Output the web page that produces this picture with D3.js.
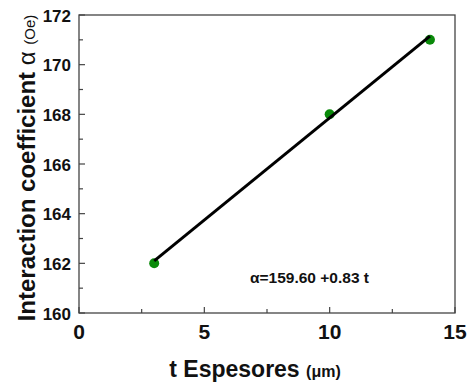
<!DOCTYPE html>
<meta charset="utf-8">
<style>
  html, body { margin:0; padding:0; background:#fff; overflow:hidden }
  text { font-family: Arial, "Liberation Sans", sans-serif; font-weight: bold; }
</style>
<svg id="chart" width="473" height="383"></svg>
<script src="https://cdn.jsdelivr.net/npm/d3@7"></script>
<script>

// data
var thickness = [3, 10, 14];
var alphaVals = [162, 168, 171];
var fitT = [3, 14];
var fitAlpha = [162.1, 171.15];
var xTicks = [0, 5, 10, 15];
var xMinor = [2.5, 7.5, 12.5];
var yTicks = [160, 162, 164, 166, 168, 170, 172];
var yMinor = [161, 163, 165, 167, 169, 171];
var fitLabel = "\u03b1=159.60 +0.83 t";

var svg = d3.select("#chart");

// plot box (don't call it "top", that's window.top)
var pL = 79, pR = 455, pT = 15, pB = 313;

var x = d3.scaleLinear().domain([0, 15]).range([pL, pR]);
var y = d3.scaleLinear().domain([160, 172]).range([pB, pT]);

// frame
svg.append("rect")
    .attr("x", pL).attr("y", pT)
    .attr("width", pR - pL).attr("height", pB - pT)
    .attr("fill", "none").attr("stroke", "#444").attr("stroke-width", 1.3);

// x axis ticks (pointing in)
var xAxis = svg.append("g").attr("transform", "translate(0," + pB + ")");
xAxis.selectAll("line.maj").data(xTicks).enter().append("line")
    .attr("x1", function(d) { return x(d); }).attr("x2", function(d) { return x(d); })
    .attr("y1", 0).attr("y2", -6).attr("stroke", "#444").attr("stroke-width", 1.2);
xAxis.selectAll("line.min").data(xMinor).enter().append("line")
    .attr("x1", function(d) { return x(d); }).attr("x2", function(d) { return x(d); })
    .attr("y1", 0).attr("y2", -4).attr("stroke", "#444").attr("stroke-width", 1.2);
xAxis.selectAll("text").data(xTicks).enter().append("text")
    .attr("x", function(d) { return x(d); })
    .attr("y", 26)
    .attr("text-anchor", "middle")
    .attr("font-size", 21)
    .attr("fill", "#111")
    .text(function(d) { return d; });

// y axis ticks (pointing in)
var yAxis = svg.append("g").attr("transform", "translate(" + pL + ",0)");
yAxis.selectAll("line.maj").data(yTicks).enter().append("line")
    .attr("y1", function(d) { return y(d); }).attr("y2", function(d) { return y(d); })
    .attr("x1", 0).attr("x2", 6).attr("stroke", "#444").attr("stroke-width", 1.2);
yAxis.selectAll("line.min").data(yMinor).enter().append("line")
    .attr("y1", function(d) { return y(d); }).attr("y2", function(d) { return y(d); })
    .attr("x1", 0).attr("x2", 4).attr("stroke", "#444").attr("stroke-width", 1.2);
yAxis.selectAll("text").data(yTicks).enter().append("text")
    .attr("x", -8)
    .attr("y", function(d) { return y(d) + 6.5; })
    .attr("text-anchor", "end")
    .attr("font-size", 17)
    .attr("fill", "#111")
    .text(function(d) { return d; });

// axis titles
svg.append("text")
    .attr("x", 255).attr("y", 377)
    .attr("text-anchor", "middle")
    .attr("font-size", 23)
    .attr("fill", "#111")
    .call(function(t) {
        t.append("tspan").text("t Espesores ");
        t.append("tspan").attr("font-size", 16).text("(\u03bcm)");
    });

svg.append("text")
    .attr("transform", "translate(35,168) rotate(-90)")
    .attr("text-anchor", "middle")
    .attr("font-size", 24)
    .attr("fill", "#111")
    .call(function(t) {
        t.append("tspan").text("Interaction coefficient ");
        t.append("tspan").attr("font-weight", "normal").text("\u03b1 ");
        t.append("tspan").attr("font-size", 15).attr("font-weight", "normal").text("(Oe)");
    });

// points
svg.append("g").selectAll("circle")
    .data(thickness)
    .enter().append("circle")
    .attr("cx", function(d) { return x(d); })
    .attr("cy", function(d, i) { return y(alphaVals[i]); })
    .attr("r", 5)
    .attr("fill", "#0a8a0a");

// fit line
var line = d3.line()
    .x(function(d) { return x(d); })
    .y(function(d, i) { return y(fitAlpha[i]); });

svg.append("path")
    .datum(fitT)
    .attr("d", line)
    .attr("fill", "none")
    .attr("stroke", "#000")
    .attr("stroke-width", 3);

svg.append("text")
    .attr("x", 250).attr("y", 283)
    .attr("font-size", 15.5)
    .attr("fill", "#111")
    .text(fitLabel);

</script>
